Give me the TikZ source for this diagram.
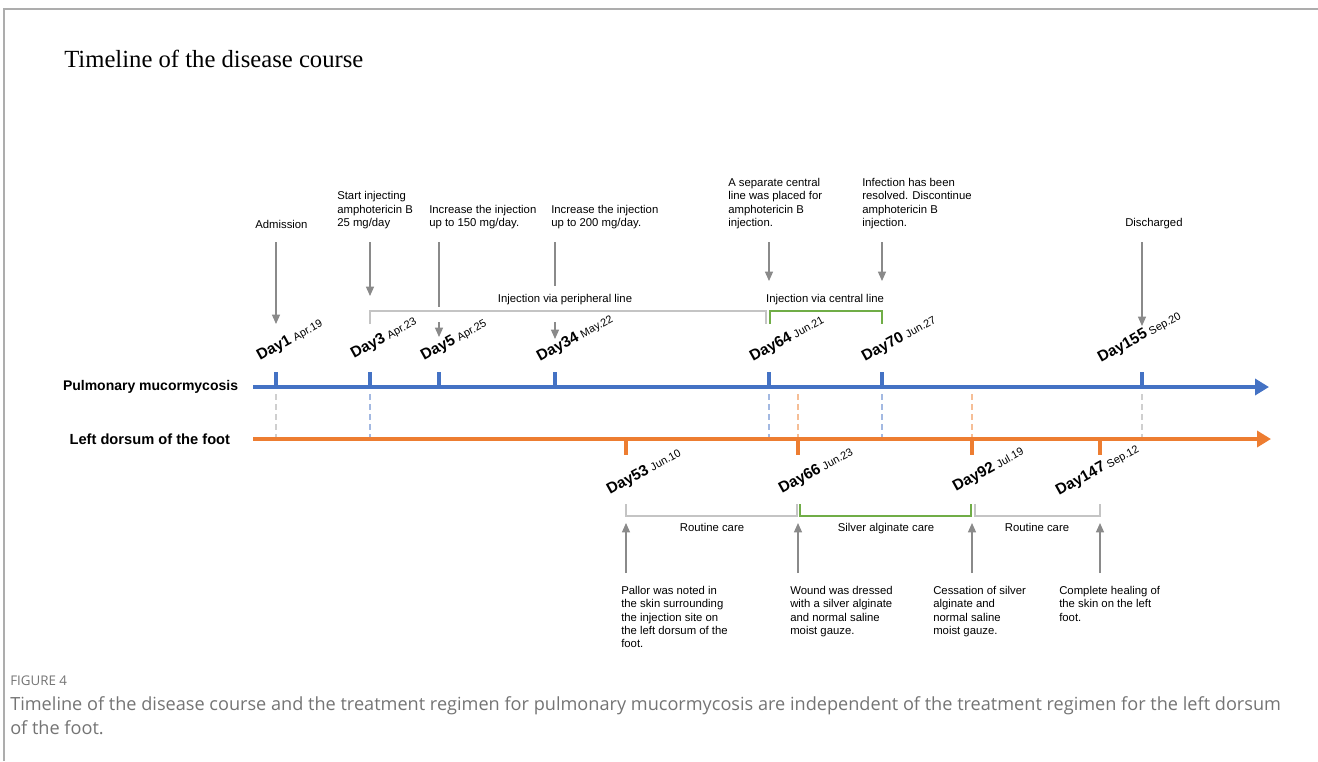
\documentclass[tikz,border=0pt]{standalone}
\usepackage{fontspec}
\setmainfont{Liberation Sans}
\newfontfamily\titlefont{Liberation Serif}
\newfontfamily\capfont{Open Sans}
\usetikzlibrary{arrows.meta,positioning,calc}
\definecolor{pblue}{HTML}{4472C4}
\definecolor{porange}{HTML}{ED7D31}
\definecolor{pgreen}{HTML}{70AD47}
\definecolor{pgray}{HTML}{8A8A8A}
\definecolor{bgray}{HTML}{C4C4C4}
\definecolor{lblue}{HTML}{A3B9E2}
\definecolor{lorange}{HTML}{F6BE96}
\definecolor{lgray}{HTML}{CFCFCF}
\definecolor{capgray}{HTML}{747474}
\newcommand{\daytag}[2]{{\fontsize{11.5}{12}\selectfont\bfseries Day#1} {\fontsize{8.2}{9}\selectfont #2}}

\begin{document}
\begin{tikzpicture}[x=0.75pt, y=-0.75pt,
    note/.style={font=\fontsize{8.5}{10}\selectfont, align=left, inner sep=0pt},
    span/.style={font=\fontsize{8.5}{10}\selectfont, inner sep=0pt, anchor=base},
    daylab/.style={rotate=29, anchor=base west, inner sep=0pt},
    track/.style={font=\fontsize{10.5}{12}\selectfont\bfseries, anchor=east, inner sep=0pt},
    axis/.style={line width=3pt, -{Triangle[length=10.5pt,width=12pt]}},
    tick/.style={line width=2.8pt},
    pointer/.style={draw=pgray, line width=0.9pt, -{Triangle[length=7pt,width=6pt]}},
    guide/.style={line width=0.9pt, dash pattern=on 4.5pt off 3pt},
    bracket/.style={line width=1.2pt},
  ]
  \useasboundingbox (0,0) rectangle (1318,761);
  \draw[pgray!70, line width=1.1pt] (4,761) |- (1318,9);

  % title
  \node[anchor=base west, inner sep=0pt, font=\titlefont\fontsize{18.5}{20}\selectfont] (title) at (64,67) {Timeline of the disease course};

  % the two tracks
  \coordinate (pstart) at (253,387);
  \coordinate (pend) at (1269,387);
  \coordinate (fstart) at (253,439);
  \coordinate (fend) at (1271,439);
  \draw[axis, pblue] (pstart) -- (pend);
  \draw[axis, porange] (fstart) -- (fend);
  \node[track, left=11pt of pstart] (lung) {Pulmonary mucormycosis};
  \node[track, left=17pt of fstart, font=\fontsize{11}{12}\selectfont\bfseries] (foot) {Left dorsum of the foot};

  % ticks on the pulmonary track
  \coordinate (t1) at (276,387);
  \coordinate (t3) at (370,387);
  \coordinate (t5) at (439,387);
  \coordinate (t34) at (555,387);
  \coordinate (t64) at (769,387);
  \coordinate (t70) at (882,387);
  \coordinate (t155) at (1142,387);
  \foreach \t in {t1,t3,t5,t34,t64,t70,t155}
    \draw[tick, pblue] (\t) -- ++(0,-15);

  % ticks on the foot track
  \coordinate (f53) at (626,439);
  \coordinate (f66) at (798,439);
  \coordinate (f92) at (972,439);
  \coordinate (f147) at (1100,439);
  \foreach \t in {f53,f66,f92,f147}
    \draw[tick, porange] (\t) -- ++(0,16);

  % guides between tracks
  \draw[guide, lgray] ($(t1)+(0,7)$) -- ($(t1)+(0,50)$);
  \draw[guide, lblue] ($(t3)+(0,7)$) -- ($(t3)+(0,50)$);
  \draw[guide, lblue] ($(t64)+(0,7)$) -- ($(t64)+(0,50)$);
  \draw[guide, lblue] ($(t70)+(0,7)$) -- ($(t70)+(0,50)$);
  \draw[guide, lgray] ($(t155)+(0,7)$) -- ($(t155)+(0,50)$);
  \draw[guide, lorange] ($(f66)+(0,-45)$) -- ($(f66)+(0,-2)$);
  \draw[guide, lorange] ($(f92)+(0,-45)$) -- ($(f92)+(0,-2)$);

  % day labels
  \node[daylab] (d1) at ($(t1)+(-16,-26)$) {\daytag{1}{Apr.19}};
  \node[daylab] (d3) at ($(t3)+(-16,-28)$) {\daytag{3}{Apr.23}};
  \node[daylab] (d5) at ($(t5)+(-15,-26)$) {\daytag{5}{Apr.25}};
  \node[daylab] (d34) at ($(t34)+(-15,-25)$) {\daytag{34}{May.22}};
  \node[daylab] (d64) at ($(t64)+(-16,-25)$) {\daytag{64}{Jun.21}};
  \node[daylab] (d70) at ($(t70)+(-17,-25)$) {\daytag{70}{Jun.27}};
  \node[daylab] (d155) at ($(t155)+(-41,-24)$) {\daytag{155}{Sep.20}};
  \node[daylab] (d53) at ($(f53)+(-16,56)$) {\daytag{53}{Jun.10}};
  \node[daylab] (d66) at ($(f66)+(-16,55)$) {\daytag{66}{Jun.23}};
  \node[daylab] (d92) at ($(f92)+(-16,53)$) {\daytag{92}{Jul.19}};
  \node[daylab] (d147) at ($(f147)+(-41,57)$) {\daytag{147}{Sep.12}};

  % events on the pulmonary track
  \node[note, anchor=south west] (adm) at (255,229) {Admission};
  \node[note, anchor=south west] (start) at (337,229) {Start injecting\\amphotericin B\\25 mg/day};
  \node[note, anchor=south west] (up150) at (429,229) {Increase the injection\\up to 150 mg/day.};
  \node[note, anchor=south west] (up200) at (551,229) {Increase the injection\\up to 200 mg/day.};
  \node[note, anchor=south west] (cline) at (728,229) {A separate central\\line was placed for\\amphotericin B\\injection.};
  \node[note, anchor=south west] (stop) at (862,229) {Infection has been\\resolved. Discontinue\\amphotericin B\\injection.};
  \node[note, anchor=south west] (out) at (1125,229) {Discharged};

  \draw[pointer] ($(t1 |- adm.south)+(0,13)$) -- ($(t1)+(0,-63)$);
  \draw[pointer] ($(t3 |- start.south)+(0,13)$) -- ($(t3)+(0,-91)$);
  \draw[pgray, line width=0.9pt] ($(t5 |- up150.south)+(0,13)$) -- ($(t5)+(0,-80)$);
  \draw[pointer] ($(t5)+(0,-65)$) -- ($(t5)+(0,-50)$);
  \draw[pgray, line width=0.9pt] ($(t34 |- up200.south)+(0,13)$) -- ($(t34)+(0,-101)$);
  \draw[pointer] ($(t34)+(0,-65)$) -- ($(t34)+(0,-48)$);
  \draw[pointer] ($(t64 |- cline.south)+(0,13)$) -- ($(t64)+(0,-106)$);
  \draw[pointer] ($(t70 |- stop.south)+(0,13)$) -- ($(t70)+(0,-106)$);
  \draw[pointer] ($(t155 |- out.south)+(0,13)$) -- ($(t155)+(0,-61)$);

  % injection routes
  \draw[bracket, bgray] ($(t3)+(0,-63)$) -- ($(t3)+(0,-76)$) -- ($(t64)+(-3,-76)$) -- ($(t64)+(-3,-63)$);
  \draw[bracket, pgreen] ($(t64)+(1,-63)$) -- ($(t64)+(1,-76)$) -- ($(t70)+(0,-76)$) -- ($(t70)+(0,-63)$);
  \node[span] (periph) at (565,302) {Injection via peripheral line};
  \node[span] (central) at (825,302) {Injection via central line};

  % care of the foot
  \draw[bracket, bgray] ($(f53)+(0,65)$) -- ($(f53)+(0,77)$) -- ($(f66)+(-1,77)$) -- ($(f66)+(-1,65)$);
  \draw[bracket, pgreen] ($(f66)+(2,65)$) -- ($(f66)+(2,77)$) -- ($(f92)+(-1,77)$) -- ($(f92)+(-1,65)$);
  \draw[bracket, bgray] ($(f92)+(3,65)$) -- ($(f92)+(3,77)$) -- ($(f147)+(0,77)$) -- ($(f147)+(0,65)$);
  \node[span] (care1) at (712,531) {Routine care};
  \node[span] (care2) at (886,531) {Silver alginate care};
  \node[span] (care3) at (1037,531) {Routine care};

  % events on the foot track
  \node[note, anchor=north west] (pallor) at (621,586) {Pallor was noted in\\the skin surrounding\\the injection site on\\the left dorsum of the\\foot.};
  \node[note, anchor=north west] (dress) at (790,586) {Wound was dressed\\with a silver alginate\\and normal saline\\moist gauze.};
  \node[note, anchor=north west] (cease) at (933,586) {Cessation of silver\\alginate and\\normal saline\\moist gauze.};
  \node[note, anchor=north west] (heal) at (1059,586) {Complete healing of\\the skin on the left\\foot.};

  \draw[pointer] ($(f53 |- pallor.north)+(0,-13)$) -- ($(f53)+(0,84)$);
  \draw[pointer] ($(f66 |- dress.north)+(0,-13)$) -- ($(f66)+(0,84)$);
  \draw[pointer] ($(f92 |- cease.north)+(0,-13)$) -- ($(f92)+(0,84)$);
  \draw[pointer] ($(f147 |- heal.north)+(0,-13)$) -- ($(f147)+(0,84)$);

  % caption
  \node[anchor=base west, inner sep=0pt, text=capgray, font=\capfont\fontsize{10}{12}\selectfont] (fig) at (10,685) {FIGURE 4};
  \node[anchor=north west, inner sep=0pt, align=left, text=capgray, font=\capfont\fontsize{13.6}{18}\selectfont] (cap) at (10,696) {Timeline of the disease course and the treatment regimen for pulmonary mucormycosis are independent of the treatment regimen for the left dorsum\\of the foot.};
\end{tikzpicture}
\end{document}
